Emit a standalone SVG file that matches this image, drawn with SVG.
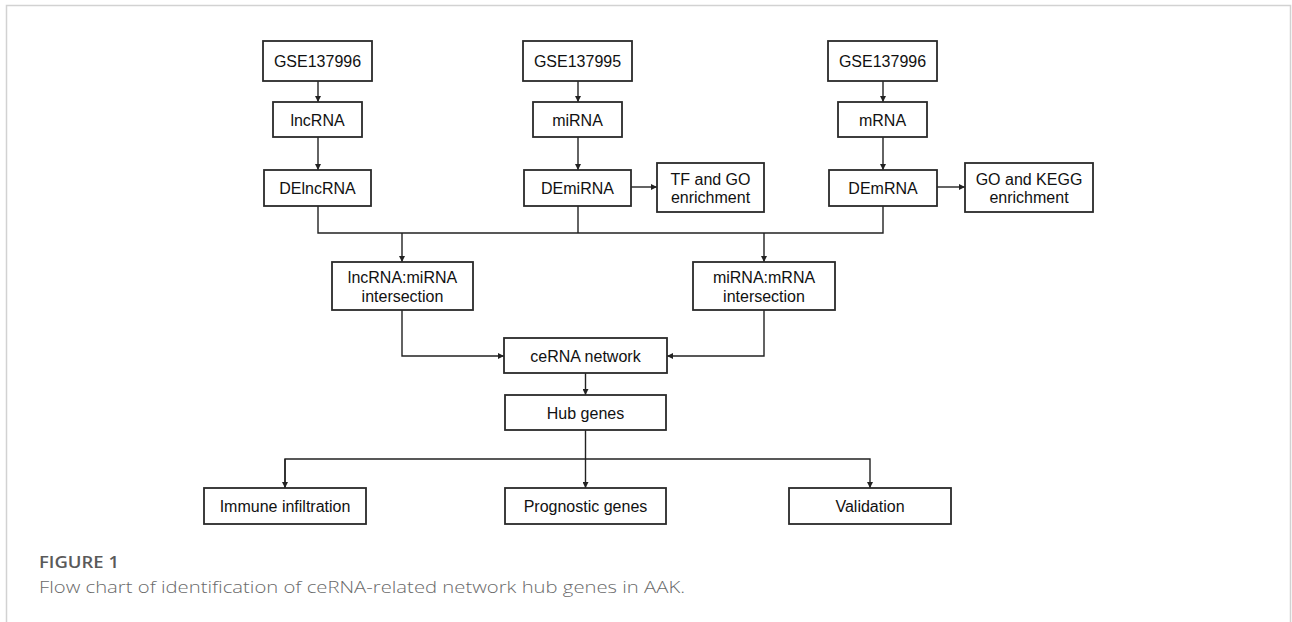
<svg xmlns="http://www.w3.org/2000/svg" width="1292" height="622" viewBox="0 0 1292 622">
<style>
.box{fill:#fff;stroke:#2a2a2a;stroke-width:1.8}
.t{font-family:"Liberation Sans",Arial,sans-serif;font-size:16px;fill:#111;text-anchor:middle}
.c{fill:none;stroke:#222;stroke-width:1.4}
.cap1{font-family:"Open Sans","Noto Sans",sans-serif;font-size:16.5px;font-weight:600;fill:#5a5a5a}
.cap2{font-family:"Open Sans","Noto Sans",sans-serif;font-size:16.5px;font-weight:300;fill:#6a6a6a}
</style>
<defs>
<marker id="ah" viewBox="0 0 10 10" refX="10" refY="5" markerWidth="6" markerHeight="6" markerUnits="userSpaceOnUse" orient="auto">
<path d="M0,0 L10,5 L0,10 z" fill="#222"/>
</marker>
</defs>
<rect x="6.5" y="5.5" width="1284" height="700" fill="none" stroke="#d2d2d2" stroke-width="1.5"/>

<g id="connectors">
<path class="c" d="M318,81 V102" marker-end="url(#ah)"/>
<path class="c" d="M318,137 V170" marker-end="url(#ah)"/>
<path class="c" d="M578,81 V102" marker-end="url(#ah)"/>
<path class="c" d="M578,137 V170" marker-end="url(#ah)"/>
<path class="c" d="M883,81 V102" marker-end="url(#ah)"/>
<path class="c" d="M883,137 V170" marker-end="url(#ah)"/>
<path class="c" d="M631,187 H657" marker-end="url(#ah)"/>
<path class="c" d="M937,187 H965" marker-end="url(#ah)"/>
<path class="c" d="M318,206 V233 H883 V206"/>
<path class="c" d="M578,206 V233"/>
<path class="c" d="M402,233 V262" marker-end="url(#ah)"/>
<path class="c" d="M764,233 V262" marker-end="url(#ah)"/>
<path class="c" d="M402,310 V356 H504" marker-end="url(#ah)"/>
<path class="c" d="M764,310 V356 H667" marker-end="url(#ah)"/>
<path class="c" d="M585.5,373 V395" marker-end="url(#ah)"/>
<path class="c" d="M585.5,430 V488" marker-end="url(#ah)"/>
<path class="c" d="M285,488 V459 H870 V488" marker-end="url(#ah)"/>
<path class="c" d="M285,459 V488" marker-end="url(#ah)"/>
</g>

<g id="gse137996a"><rect class="box" x="263" y="41" width="109" height="40"/><text class="t" x="317.5" y="67">GSE137996</text></g>
<g id="lncrna"><rect class="box" x="273" y="102" width="89" height="35"/><text class="t" x="317.5" y="125.5">lncRNA</text></g>
<g id="delncrna"><rect class="box" x="264" y="170" width="107" height="36"/><text class="t" x="317.5" y="194">DElncRNA</text></g>

<g id="gse137995"><rect class="box" x="523" y="41" width="109" height="40"/><text class="t" x="577.5" y="67">GSE137995</text></g>
<g id="mirna"><rect class="box" x="533" y="102" width="89" height="35"/><text class="t" x="577.5" y="125.5">miRNA</text></g>
<g id="demirna"><rect class="box" x="524" y="170" width="107" height="36"/><text class="t" x="577.5" y="194">DEmiRNA</text></g>
<g id="tfgo"><rect class="box" x="657" y="163" width="107" height="49"/><text class="t" x="710.5" y="185">TF and GO</text><text class="t" x="710.5" y="203">enrichment</text></g>

<g id="gse137996b"><rect class="box" x="828" y="41" width="109" height="40"/><text class="t" x="882.5" y="67">GSE137996</text></g>
<g id="mrna"><rect class="box" x="838" y="102" width="89" height="35"/><text class="t" x="882.5" y="125.5">mRNA</text></g>
<g id="demrna"><rect class="box" x="829" y="170" width="108" height="36"/><text class="t" x="883" y="194">DEmRNA</text></g>
<g id="gokegg"><rect class="box" x="965" y="163" width="128" height="49"/><text class="t" x="1029" y="185">GO and KEGG</text><text class="t" x="1029" y="203">enrichment</text></g>

<g id="lnc_mi"><rect class="box" x="332" y="262" width="141" height="48"/><text class="t" x="402.5" y="283">lncRNA:miRNA</text><text class="t" x="402.5" y="301.5">intersection</text></g>
<g id="mi_m"><rect class="box" x="693" y="262" width="142" height="48"/><text class="t" x="764" y="283">miRNA:mRNA</text><text class="t" x="764" y="301.5">intersection</text></g>

<g id="cerna"><rect class="box" x="504" y="338" width="163" height="35"/><text class="t" x="585.5" y="361.5">ceRNA network</text></g>
<g id="hub"><rect class="box" x="505" y="395" width="161" height="35"/><text class="t" x="585.5" y="418.5">Hub genes</text></g>

<g id="immune"><rect class="box" x="204" y="488" width="162" height="36"/><text class="t" x="285" y="512">Immune infiltration</text></g>
<g id="prognostic"><rect class="box" x="505" y="488" width="161" height="36"/><text class="t" x="585.5" y="512">Prognostic genes</text></g>
<g id="validation"><rect class="box" x="789" y="488" width="162" height="36"/><text class="t" x="870" y="512">Validation</text></g>

<g id="caption">
<text class="cap1" x="39" y="568" textLength="80" lengthAdjust="spacingAndGlyphs">FIGURE 1</text>
<text class="cap2" x="39" y="593" textLength="646" lengthAdjust="spacingAndGlyphs">Flow chart of identification of ceRNA-related network hub genes in AAK.</text>
</g>
</svg>
